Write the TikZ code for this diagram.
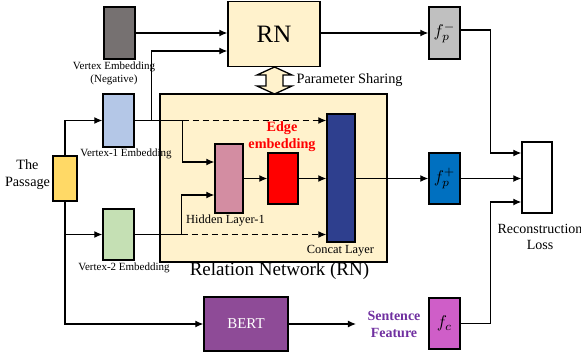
\documentclass[tikz,border=0pt]{standalone}
\usepackage{graphicx}
\usepackage{fontspec}
\setmainfont{Liberation Serif}
\usetikzlibrary{arrows.meta}
\definecolor{cream}{HTML}{FFF2CC}
\definecolor{negcol}{HTML}{767171}
\definecolor{vonecol}{HTML}{B4C7E7}
\definecolor{vtwocol}{HTML}{C5E0B4}
\definecolor{psgcol}{HTML}{FFD966}
\definecolor{hidcol}{HTML}{D38DA2}
\definecolor{catcol}{HTML}{2E3F8E}
\definecolor{fppcol}{HTML}{0070C0}
\definecolor{fpmcol}{HTML}{C0C0C0}
\definecolor{fccol}{HTML}{CF5EC8}
\definecolor{bertcol}{HTML}{8E4B97}
\definecolor{sfcol}{HTML}{7030A0}
\newcommand{\fsz}[1]{\fontsize{#1}{1.2\dimexpr#1pt\relax}\selectfont}
\newcommand{\bigmath}[1]{\scalebox{1.7}{$#1$}}
\begin{document}
\begin{tikzpicture}[x=1pt, y=-1pt, line width=1.2pt, >={Latex[length=8pt,width=7pt]},
  blk/.style={draw, line width=1.4pt, inner sep=0pt},
  lbl/.style={font=\fsz{11}, align=center, inner sep=0pt}]
  \useasboundingbox (0,0) rectangle (581,360);
  % relation network frame
  \node[blk, fill=cream, minimum width=227pt, minimum height=168pt] (rnbox) at (273.5,178) {};
  \node[font=\fsz{19}] (rntitle) at (279.5,271) {Relation Network (RN)};
  \node[blk, fill=cream, minimum width=92pt, minimum height=65pt, font=\fsz{25}] (rn) at (274,34) {RN};
  % parameter sharing
  \filldraw[fill=cream, line width=1.3pt] (274.5,67) -- (292,75) -- (283,75) -- (283,86) -- (292,86)
    -- (274.5,94) -- (257,86) -- (266,86) -- (266,75) -- (257,75) -- cycle;
  \node[font=\fsz{14.3}, anchor=west, inner sep=0pt] (share) at (296,80) {Parameter Sharing};
  % inputs
  \node[blk, fill=psgcol, minimum width=24pt, minimum height=45pt] (psg) at (65,178.5) {};
  \node[font=\fsz{14.2}, align=center, inner sep=0pt] (psglbl) at (27.5,175) {The\\Passage};
  \node[blk, fill=negcol, minimum width=31pt, minimum height=52pt] (neg) at (119.5,33) {};
  \node[lbl] (neglbl) at (114,73) {Vertex Embedding\\(Negative)};
  \node[blk, fill=vonecol, minimum width=31pt, minimum height=53pt] (v1) at (118.5,120.5) {};
  \node[lbl] (v1lbl) at (126,153.5) {Vertex-1 Embedding};
  \node[blk, fill=vtwocol, minimum width=31pt, minimum height=51pt] (v2) at (118.5,234.5) {};
  \node[lbl] (v2lbl) at (124,268) {Vertex-2 Embedding};
  % inside RN
  \node[blk, fill=hidcol, minimum width=28pt, minimum height=69pt] (hidden) at (229,178.5) {};
  \node[lbl, font=\fsz{12.4}] (hidlbl) at (225.5,221) {Hidden Layer-1};
  \node[blk, fill=red, minimum width=30pt, minimum height=51pt] (edge) at (283,178.5) {};
  \node[font=\bfseries\fsz{14.2}, text=red, align=center, inner sep=0pt] (edgelbl) at (282,137) {Edge\\embedding};
  \node[blk, fill=catcol, minimum width=28pt, minimum height=128pt] (concat) at (341,178) {};
  \node[lbl, font=\fsz{12.4}] (catlbl) at (340.5,251) {Concat Layer};
  % outputs
  \node[blk, fill=fpmcol, minimum width=31pt, minimum height=52pt] (fpm) at (444.5,33) {\bigmath{f_p^-}};
  \node[blk, fill=fppcol, minimum width=31pt, minimum height=51pt] (fpp) at (444.5,178.5) {\bigmath{f_p^+}};
  \node[blk, fill=fccol, minimum width=31pt, minimum height=51pt] (fc) at (444.5,323.5) {\bigmath{f_c}};
  \node[blk, fill=bertcol, minimum width=84pt, minimum height=54pt, text=white, font=\fsz{15}] (bert) at (246,324) {BERT};
  \node[font=\bfseries\fsz{14}, text=sfcol, align=center, inner sep=0pt] (sf) at (394,324.5) {Sentence\\Feature};
  \node[blk, fill=white, minimum width=30pt, minimum height=71pt] (recon) at (537,177.5) {};
  \node[font=\fsz{14}, align=center, inner sep=0pt] (reconlbl) at (540,237) {Reconstruction\\Loss};
  % connectors
  \draw[->] (neg.east) -- (neg.east -| rn.west);
  \draw[->] (rn.east |- fpm) -- (fpm.west);
  \draw[->] (psg.north) |- (v1.west);
  \draw[->] (psg.south) |- (v2.west);
  \draw[->] (psg.south) |- (bert.west);
  \draw[->] (v1.east) -- ++(17,0) |- ([yshift=-17pt]rn.west);
  \draw[->] (v1.east) -- ++(48,0) coordinate (v1b) |- ([yshift=16.5pt]hidden.west);
  \draw[->, dash pattern=on 6pt off 4pt] (v1b) -- (v1b -| concat.west);
  \draw[->] (v2.east) -- ++(47,0) coordinate (v2b) |- ([yshift=-16.5pt]hidden.west);
  \draw[->, dash pattern=on 6pt off 4pt] (v2b) -- (v2b -| concat.west);
  \draw[->] (hidden) -- (edge);
  \draw[->] (edge) -- (edge -| concat.west);
  \draw[->] (concat.east |- fpp) -- (fpp.west);
  \draw[->] ([yshift=3pt]fpm.east) -- ++(30,0) |- ([yshift=24.5pt]recon.west);
  \draw[->] (fpp) -- (fpp -| recon.west);
  \draw[->] (fc.east) -- ++(30,0) |- ([yshift=-24.5pt]recon.west);
  \draw[->] (bert.east) -- ([xshift=-11pt]sf.west |- bert.east);
\end{tikzpicture}
\end{document}
